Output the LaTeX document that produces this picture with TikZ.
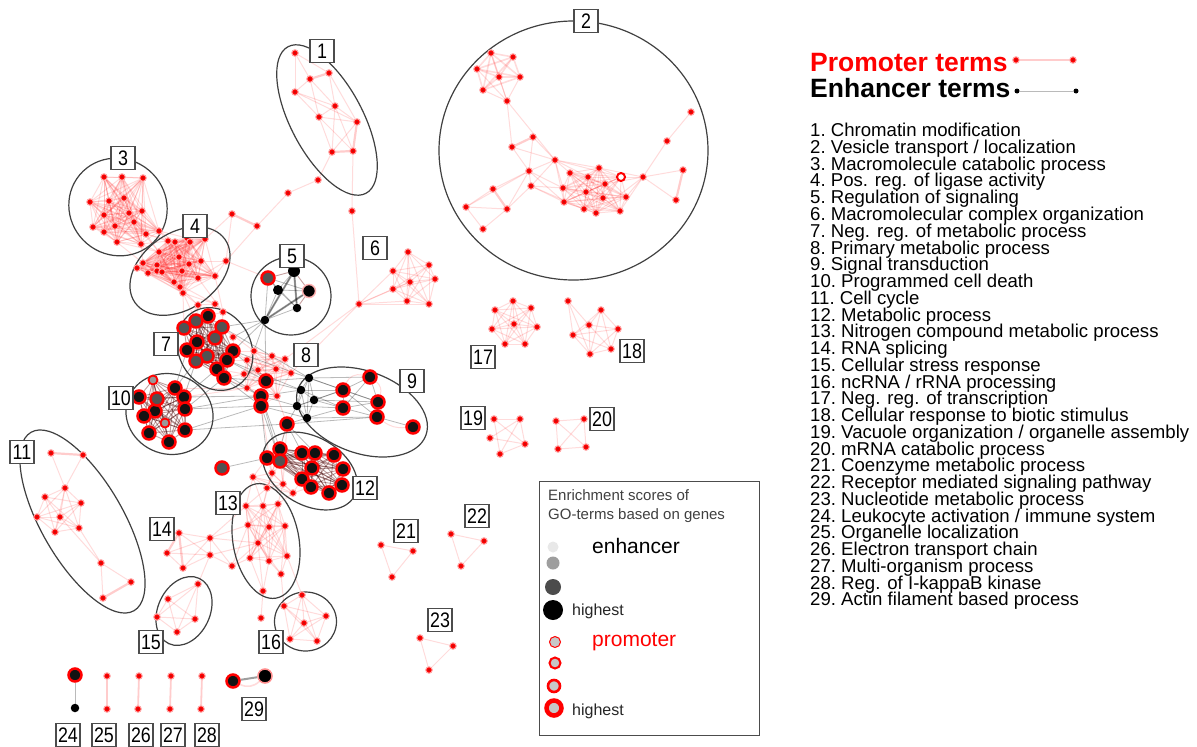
\documentclass[tikz,border=0pt]{standalone}
\usepackage{fontspec}
\setmainfont{Liberation Sans}
\usetikzlibrary{backgrounds}
% all edges between the nodes prefix-from ... prefix-to
\newcommand\mkclique[4]{%
  \foreach \ii in {#2,...,#3}{\foreach \jj in {#2,...,#3}{%
    \ifnum\ii<\jj\relax\draw[#4] (#1-\ii) -- (#1-\jj);\fi}}}
\begin{document}
\begin{tikzpicture}[x=1pt,y=-1pt,
  pn/.style={circle, fill=red, draw=red!35, line width=1pt, inner sep=0pt, minimum size=6.5pt,
    path picture={\fill[black!80] (path picture bounding box.center) circle (0.6pt);}},
  bk/.style={circle, fill=black!93, draw=red, line width=2.5pt, inner sep=0pt, minimum size=13pt},
  gk/.style={bk, fill=black!68},
  lk/.style={bk, fill=black!40, minimum size=9pt, line width=1.8pt},
  en/.style={circle, fill=black, inner sep=0pt, minimum size=8.5pt},
  opn/.style={circle, fill=white, draw=red, line width=2pt, inner sep=0pt, minimum size=8pt},
  pe/.style={draw=red, draw opacity=0.14, line width=1pt},
  pet/.style={draw=red, draw opacity=0.2, line width=2.2pt},
  ee/.style={draw=black, draw opacity=0.27, line width=0.8pt},
  eet/.style={draw=black, draw opacity=0.38, line width=2pt},
  ell/.style={draw=black!75, line width=1.2pt},
  lab/.style={draw=black!70, fill=white, line width=1.2pt, inner sep=1pt,
    minimum width=24pt, minimum height=23pt, font=\fontsize{21}{21}\selectfont},
  txt/.style={anchor=base west, inner sep=0pt}
]
\useasboundingbox (0,0) rectangle (1197,747);

% ---------- promoter term nodes ----------
\foreach \n/\x/\y in {
  a-1/295/53, a-2/329/73, a-3/310/79, a-4/295/92, a-5/335/106, a-6/319/117, a-7/357/122, a-8/332/152, a-9/353/151,
  ch-1/318/180, ch-2/288/193, ch-3/257/226, ch-4/232/214, ch-5/226/261, ch-6/352/211,
  tp-1/491/53, tp-2/513/57, tp-3/477/69, tp-4/499/77, tp-5/520/77, tp-6/483/90, tp-7/507/101,
  md-1/533/137, md-2/512/147, md-3/555/160, md-4/529/171, md-5/531/186, md-6/493/189, md-7/466/207, md-8/507/209, md-9/483/229,
  co-1/570/173, co-2/588/177, co-3/599/168, co-4/605/184, co-5/563/188, co-6/586/192, co-7/603/198, co-8/564/202, co-9/584/209, co-10/596/213, co-11/620/211, co-12/626/197,
  rt-1/643/177, rt-2/667/141, rt-3/691/112, rt-4/683/170, rt-5/676/200,
  b-1/104/177, b-2/122/177, b-3/143/178, b-4/90/202, b-5/109/201, b-6/124/198, b-7/142/211, b-8/129/213, b-9/104/215, b-10/93/227, b-11/115/226, b-12/134/222, b-13/104/232, b-14/146/234, b-15/117/242, b-16/141/244, b-17/159/231,
  d-1/168/241, d-2/175/242, d-3/187/238, d-4/190/242, d-5/205/239, d-6/159/252, d-7/179/257, d-8/201/261, d-9/143/263, d-10/157/265, d-11/189/264, d-12/137/268, d-13/148/273, d-14/157/271, d-15/162/272, d-16/182/271, d-17/198/278, d-18/174/282, d-19/215/276, d-20/180/287, d-21/183/293,
  br-1/198/305, br-2/215/304, br-3/223/312,
  f-1/408/252, f-2/429/265, f-3/393/271, f-4/410/282, f-5/435/279, f-6/393/289, f-7/407/301, f-8/429/304, f-9/359/304,
  g-14/233/337,
  hs-1/254/351, hs-2/272/356, hs-3/285/359, hs-4/247/360, hs-5/258/370, hs-6/276/369, hs-7/291/373, hs-8/244/374, hs-9/247/388, hs-10/277/396,
  ls-1/272/473, ls-2/283/484, ls-3/253/477, ls-4/267/488, ls-5/293/493,
  m-1/246/506, m-2/263/506, m-3/278/504, m-4/248/525, m-5/269/527, m-6/285/526, m-7/258/543, m-8/250/558, m-9/269/561, m-10/287/556, m-11/281/574, m-12/263/591,
  n-1/179/533, n-2/167/553, n-3/183/568, n-4/210/538, n-5/210/555, n-6/232/566,
  o-1/198/584, o-2/168/599, o-3/157/617, o-4/195/619, o-5/177/632,
  p-1/302/595, p-2/284/606, p-3/326/616, p-4/304/623, p-5/290/639, p-6/317/641, p-7/261/618,
  q-1/513/301, q-2/495/310, q-3/531/308, q-4/514/324, q-5/492/329, q-6/537/327, q-7/505/344, q-8/525/344,
  r-1/568/301, r-2/601/310, r-3/589/325, r-4/573/335, r-5/618/329, r-6/611/349, r-7/590/354,
  x-1/494/419, x-2/520/419, x-3/490/438, x-4/525/444, x-5/500/454,
  y-1/556/421, y-2/584/419, y-3/558/449, y-4/586/447,
  u-1/381/545, u-2/413/551, u-3/392/577,
  v-1/451/534, v-2/484/541, v-3/461/566,
  w-1/420/638, w-2/453/646, w-3/429/670,
  k-1/51/453, k-2/83/455, k-3/65/488, k-4/45/497, k-5/81/503, k-6/37/517, k-7/60/517, k-8/55/532, k-9/79/528, k-10/101/563, k-11/131/582, k-12/103/598,
  z25a/107/676, z25b/107/709, z26a/139/676, z26b/138/709, z27a/171/676, z27b/170/709, z28a/202/676, z28b/201/709,
  pl-1/1016/60, pl-2/1073/60}
  \node[pn] (\n) at (\x,\y) {};
\node[opn] (co-13) at (621,177) {};

% ---------- terms found with promoter and enhancer genes ----------
\foreach \n/\x/\y in {g-3/208/316, g-5/197/342, g-7/187/350, g-10/233/351, g-11/227/360, g-12/217/369, g-13/224/378,
  h-1/266/381, h-2/261/396, h-3/261/406, h-4/287/424,
  i-1/370/377, i-2/343/390, i-3/378/402, i-4/343/408, i-5/377/417, i-6/413/427,
  j-2/175/388, j-3/139/397, j-5/184/397, j-6/155/411, j-7/185/409, j-8/144/416, j-10/185/430, j-11/149/433, j-12/169/442,
  l-1/280/449, l-2/267/458, l-4/302/453, l-5/315/453, l-6/334/455, l-7/312/468, l-8/343/469, l-9/302/479, l-10/311/487, l-11/329/493, l-12/342/485,
  z24a/75/675, z29a/233/681}
  \node[bk] (\n) at (\x,\y) {};
\foreach \n/\x/\y in {g-1/184/328, g-2/196/321, g-4/222/327, g-6/215/338, g-8/207/356, g-9/196/361,
  j-4/157/399, l-3/280/461, l-0/222/468, e5-1/268/278}
  \node[gk] (\n) at (\x,\y) {};
\node[lk] (j-1) at (153,380) {};
\node[lk] (j-9) at (165,423) {};

% ---------- enhancer term nodes ----------
\foreach \n/\x/\y in {hb-1/309/378, hb-2/301/390, hb-3/314/400, hb-4/297/406, hb-5/307/418, e5-5/297/308, e5-6/265/320, z24b/75/708}
  \node[en] (\n) at (\x,\y) {};
\node[en, minimum size=12pt] (e5-2) at (294,271) {};
\node[en, minimum size=10pt] (e5-3) at (278,290) {};
\node[en, minimum size=13pt, draw=red!30, line width=1.5pt] (e5-4) at (309,291) {};
\node[en, minimum size=14pt, draw=red!45, line width=1.5pt] (z29b) at (265,676) {};
\node[en, minimum size=5pt] (el-1) at (1017,91) {};
\node[en, minimum size=5pt] (el-2) at (1076,91) {};

\begin{pgfonlayer}{background}
\fill[white] (0,0) rectangle (1197,747);

% dense groups
\mkclique{b}{1}{17}{pe}
\mkclique{d}{1}{21}{pe}
\mkclique{co}{1}{13}{pe}
\mkclique{tp}{1}{6}{pe, line width=1.6pt}
\mkclique{f}{1}{8}{pe}
\mkclique{q}{1}{8}{pe}
\mkclique{r}{2}{7}{pe}
\mkclique{y}{1}{4}{pe}
\mkclique{m}{1}{10}{pe}
\mkclique{ls}{1}{5}{pe}
\mkclique{o}{1}{5}{pe}
\mkclique{p}{1}{6}{pe}
\mkclique{k}{3}{9}{pe}
\mkclique{hs}{1}{10}{pe}
\mkclique{g}{1}{13}{pe}
\mkclique{j}{1}{12}{pe}
\mkclique{l}{1}{12}{pe}
\mkclique{g}{1}{13}{ee}
\mkclique{j}{1}{12}{ee}
\mkclique{l}{1}{12}{ee}
\mkclique{hb}{1}{5}{ee}
\mkclique{e5}{1}{6}{ee}

% promoter edges
\foreach \a/\b in {a-1/a-2, a-1/a-3, a-1/a-4, a-3/a-4, a-2/a-5, a-3/a-5, a-4/a-5, a-4/a-6, a-3/a-6, a-5/a-6,
  a-5/a-7, a-6/a-7, a-2/a-7, a-6/a-8, a-5/a-8, a-7/a-8, a-6/a-9, a-5/a-9, a-4/a-7,
  a-8/ch-1, ch-1/ch-2, ch-2/ch-3, ch-4/ch-5, ch-3/ch-5, a-9/ch-6, ch-6/f-9, ch-5/d-19, ch-5/d-8, ch-5/d-17,
  ch-5/e5-1, ch-4/d-5,
  tp-7/tp-3, tp-7/tp-4, tp-7/tp-5, tp-7/tp-6, tp-7/tp-1, tp-7/md-2, tp-7/md-3,
  md-2/md-4, md-1/md-4, md-1/md-3, md-2/md-3, md-3/md-4, md-3/md-5, md-4/md-5, md-4/md-6, md-6/md-7,
  md-7/md-8, md-7/md-9, md-8/md-9, md-4/md-8, md-5/md-8, md-4/md-7, md-3/co-1, md-3/co-5, md-3/co-8,
  md-3/co-2, md-4/co-5, md-4/co-8, md-5/co-5, md-5/co-8, md-5/co-9, md-3/co-3, md-3/co-13,
  rt-1/co-13, rt-1/co-12, rt-1/co-11, rt-1/co-3, rt-1/co-4, rt-1/co-10, rt-1/rt-2, rt-2/rt-3, rt-1/rt-4, rt-1/rt-5,
  f-9/f-3, f-9/f-6, f-9/f-7, f-9/f-8, f-9/f-4, f-9/hs-7, f-9/hs-3,
  r-1/r-3, r-1/r-4, r-1/r-7,
  x-1/x-2, x-1/x-4, x-1/x-5, x-2/x-5, x-2/x-4, x-3/x-4, x-5/x-4, x-3/x-2,
  u-1/u-2, u-2/u-3, u-1/u-3, v-1/v-2, v-2/v-3, v-1/v-3, w-1/w-2, w-2/w-3, w-1/w-3,
  k-2/k-3, k-1/k-3, k-9/k-10, k-7/k-10, k-10/k-11, k-10/k-12,
  b-14/d-1, b-14/d-2, b-16/d-6, b-16/d-1, b-17/d-1, b-17/d-3, b-12/d-6, b-13/d-9, b-16/d-9, b-15/d-6, b-17/d-2, b-14/d-6,
  br-1/br-2, br-2/br-3, br-1/d-21, br-1/d-20, br-2/d-21, br-2/d-18, br-3/d-19, br-3/d-17, br-1/g-2, br-1/g-1,
  br-2/g-3, br-3/g-4, br-3/g-3, d-21/g-1, d-21/g-2,
  hs-1/g-10, hs-1/g-4, hs-4/g-11, hs-4/g-10, hs-8/g-13, hs-8/g-12, hs-9/g-13, hs-9/j-5, hs-9/j-2,
  hs-5/h-1, hs-6/h-1, hs-8/h-1, hs-9/h-2, hs-10/h-2, hs-10/h-3, hs-7/h-1, hs-10/h-4, g-14/g-10, g-14/g-4,
  h-4/ls-1, h-4/ls-2, h-3/ls-1, l-1/ls-1, l-2/ls-1, l-2/ls-3, l-3/ls-2, l-3/ls-4, l-9/ls-5, l-10/ls-5, l-1/ls-2,
  ls-3/m-1, ls-4/m-1, ls-4/m-2, ls-5/m-3, ls-2/m-3, ls-1/m-2, ls-3/m-2,
  m-11/m-7, m-11/m-9, m-11/m-10, m-11/m-6, m-12/m-8, m-12/m-9, m-12/m-7,
  n-2/n-3, n-1/n-4, n-1/n-5, n-2/n-4, n-2/n-5, n-3/n-4, n-3/n-5, n-4/n-5, n-4/n-6, n-5/n-6,
  n-4/m-1, n-4/m-4, n-4/m-7, n-6/m-4, n-6/m-7, n-5/m-7, n-5/o-1, n-6/m-8,
  p-7/m-12, p-2/m-11, p-1/m-10,
  e5-2/e5-4, e5-4/e5-5, e5-1/e5-2}
  \draw[pe] (\a) -- (\b);
\foreach \a/\b in {a-2/a-3, a-7/a-9, a-8/a-9, ch-3/ch-4, md-1/md-2, md-6/md-8, rt-4/rt-5,
  k-1/k-2, k-11/k-12, n-1/n-2, n-1/n-3}
  \draw[pet] (\a) -- (\b);
\foreach \a/\b in {z25a/z25b, z26a/z26b, z27a/z27b, z28a/z28b, pl-1/pl-2}
  \draw[pe, draw opacity=0.2, line width=1.8pt] (\a) -- (\b);
\draw[pe] (i-1) to[bend left=35] (i-3);
\draw[pe] (i-3) to[bend left=30] (i-5);
\draw[pe] (i-5) to[bend right=20] (i-6);
\draw[pe] (i-1) to[bend right=40] (i-2);
\draw[pe, line width=1.6pt] (z29a) to[bend right=35] (z29b);

% enhancer edges
\foreach \a/\b in {e5-6/g-10, e5-6/g-4, e5-6/g-14, e5-6/hs-1, e5-6/h-1,
  g-10/h-1, g-11/h-1, g-13/h-1, g-12/h-2, g-13/h-2, g-13/h-3, g-10/hb-1, g-11/hb-2, g-4/hb-1,
  j-2/g-7, j-5/g-12, j-7/g-13, j-5/g-9, j-2/g-9, j-5/h-2, j-7/h-3, j-10/h-3, j-7/h-2, j-10/h-4,
  h-1/hb-1, h-1/hb-2, h-2/hb-2, h-2/hb-4, h-3/hb-4, h-3/hb-5, h-4/hb-5, h-4/hb-4,
  hb-1/i-1, hb-1/i-2, hb-2/i-2, hb-2/i-4, hb-3/i-2, hb-3/i-4, hb-3/i-3, hb-4/i-4, hb-4/i-2, hb-5/i-4,
  hb-5/i-5, hb-1/i-3,
  i-1/i-2, i-1/i-3, i-2/i-3, i-2/i-4, i-3/i-5, i-4/i-5, i-3/i-4, i-2/i-5, i-5/i-6, i-1/i-4,
  h-2/l-1, h-3/l-2, h-4/l-1, h-4/l-4, h-3/l-3, h-2/l-3, h-4/i-5, h-4/l-5, l-0/l-2, z24a/z24b, el-1/el-2}
  \draw[ee] (\a) -- (\b);
\foreach \a/\b in {e5-6/e5-2, e5-6/e5-4, e5-5/e5-2, z29a/z29b}
  \draw[eet] (\a) -- (\b);

% groups of terms
\draw[ell, rotate around={-62:(327,120)}] (327,120) ellipse [x radius=83, y radius=36];
\draw[ell] (573.5,150.5) ellipse [x radius=134.5, y radius=129.5];
\draw[ell, rotate around={-40:(118,207)}] (118,207) ellipse [x radius=50, y radius=48];
\draw[ell, rotate around={35:(180,271)}] (180,271) ellipse [x radius=55, y radius=38];
\draw[ell] (291,296) ellipse [x radius=40, y radius=39];
\draw[ell, rotate around={-60:(215,349)}] (215,349) ellipse [x radius=43, y radius=36];
\draw[ell, rotate around={-20:(362,412)}] (362,412) ellipse [x radius=68, y radius=41];
\draw[ell, rotate around={-20:(169.5,414)}] (169.5,414) ellipse [x radius=44, y radius=40];
\draw[ell, rotate around={-60:(82.5,521.5)}] (82.5,521.5) ellipse [x radius=103, y radius=41];
\draw[ell, rotate around={-30:(310,471)}] (310,471) ellipse [x radius=51, y radius=34];
\draw[ell, rotate around={-80:(266,541)}] (266,541) ellipse [x radius=58, y radius=33];
\draw[ell, rotate around={65:(184,611)}] (184,611) ellipse [x radius=36, y radius=26];
\draw[ell] (305.5,621.5) ellipse [x radius=31, y radius=29.5];
\end{pgfonlayer}

% group numbers
\foreach \t/\x/\y in {1/322/51, 2/586/21, 3/123/158, 4/195/226, 5/292/256, 6/375/248, 7/166/344, 8/306/355,
  9/412/381, 10/121/398, 11/22/452, 12/365/488, 13/228/503, 14/162/529, 15/151/642, 16/271/642,
  17/483/357, 18/632/351, 19/473/418, 20/602/419, 21/406/531, 22/477/516, 23/440/620,
  24/68/735, 25/104/735, 26/141/735, 27/173/735, 28/207/735, 29/254/709}
  \node[lab] (lab\t) at (\x,\y) {\scalebox{0.85}[1]{\t}};

% key to edge colours
\node[txt, text=red, font=\bfseries\fontsize{26.5}{28}\selectfont] (ptitle) at (810,71.5) {Promoter terms};
\node[txt, font=\bfseries\fontsize{26.5}{28}\selectfont] (etitle) at (810,97) {Enhancer terms};

% list of groups
\foreach \t [count=\c] in {Chromatin modification, Vesicle transport / localization,
  Macromolecule catabolic process, Pos. reg. of ligase activity, Regulation of signaling,
  Macromolecular complex organization, Neg. reg. of metabolic process, Primary metabolic process,
  Signal transduction, Programmed cell death, Cell cycle, Metabolic process,
  Nitrogen compound metabolic process, RNA splicing, Cellular stress response,
  ncRNA / rRNA processing, Neg. reg. of transcription, Cellular response to biotic stimulus,
  Vacuole organization / organelle assembly, mRNA catabolic process, Coenzyme metabolic process,
  Receptor mediated signaling pathway, Nucleotide metabolic process,
  Leukocyte activation / immune system, Organelle localization, Electron transport chain,
  Multi-organism process, Reg. of I-kappaB kinase, Actin filament based process}
  \node[txt, font=\fontsize{18.6}{18.6}\selectfont] (item\c) at (810,{136.7+16.76*(\c-1)}) {\c.\ \t};

% key to node colours
\node[draw=black!70, line width=1.2pt, fill=white, anchor=north west, minimum width=220pt,
  minimum height=254pt, inner sep=0pt] (keybox) at (539,481) {};
\node[txt, text=black!75, font=\fontsize{15}{15}\selectfont] (k1) at (548,500.7) {Enrichment scores of};
\node[txt, text=black!75, font=\fontsize{15}{15}\selectfont] (k2) at (548,519.3) {GO-terms based on genes};
\node[txt, font=\fontsize{21}{21}\selectfont] (kenh) at (592,553.3) {enhancer};
\node[circle, fill=black!9, inner sep=0pt, minimum size=11pt] (ke1) at (553,547) {};
\node[circle, fill=black!38, inner sep=0pt, minimum size=13pt] (ke2) at (553,563) {};
\node[circle, fill=black!70, inner sep=0pt, minimum size=16pt] (ke3) at (553,587) {};
\node[circle, fill=black, inner sep=0pt, minimum size=20pt] (ke4) at (553,610) {};
\node[txt, font=\fontsize{16}{16}\selectfont, text=black!85] (kh1) at (572,615.7) {highest};
\node[txt, text=red, font=\fontsize{21}{21}\selectfont] (kprom) at (592,646) {promoter};
\node[circle, fill=black!22, draw=red, line width=1pt, inner sep=0pt, minimum size=11pt] (kp1) at (555,642) {};
\node[circle, fill=black!22, draw=red, line width=2pt, inner sep=0pt, minimum size=11pt] (kp2) at (555,663) {};
\node[circle, fill=black!22, draw=red, line width=2.6pt, inner sep=0pt, minimum size=12pt] (kp3) at (554,686) {};
\node[circle, fill=black!22, draw=red, line width=4.5pt, inner sep=0pt, minimum size=15pt] (kp4) at (554,708) {};
\node[txt, font=\fontsize{16}{16}\selectfont, text=black!85] (kh2) at (572,715) {highest};
\end{tikzpicture}
\end{document}
